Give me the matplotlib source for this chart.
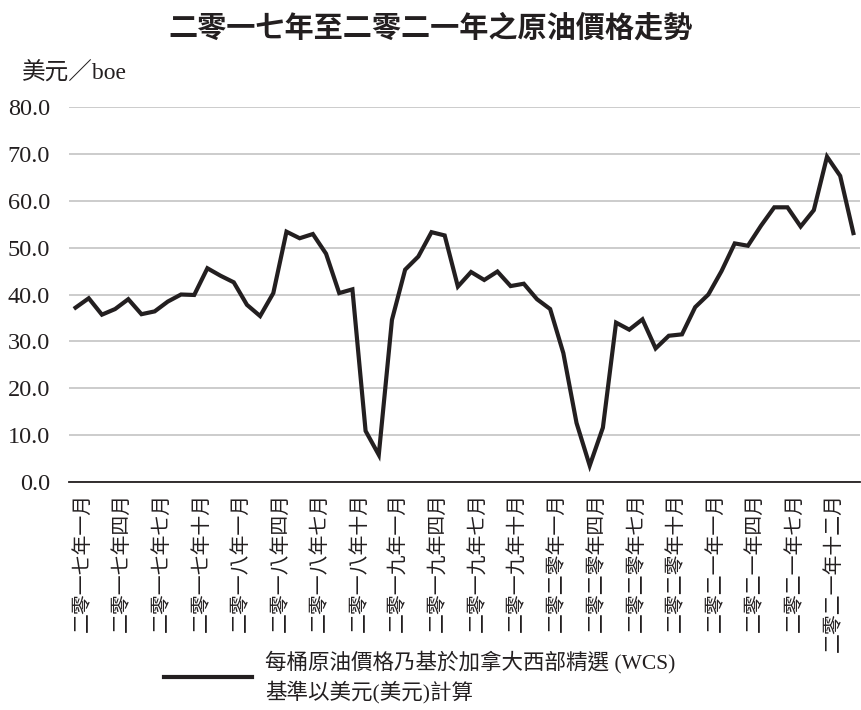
import matplotlib
matplotlib.use('Agg')
import matplotlib.pyplot as plt
import numpy as np

# monthly WCS price, Jan 2017 - Dec 2021 (USD/boe)
prices = [
    37.2, 39.2, 35.7, 36.9, 39.0, 35.8, 36.4, 38.5, 40.0, 39.9, 45.6, 44.0,
    42.6, 37.8, 35.4, 40.3, 53.4, 52.0, 52.9, 48.7, 40.3, 41.1, 10.9, 5.8,
    34.6, 45.3, 48.1, 53.3, 52.6, 41.7, 44.8, 43.1, 44.9, 41.8, 42.3, 39.0,
    36.9, 27.5, 12.6, 3.5, 11.6, 34.0, 32.5, 34.7, 28.5, 31.2, 31.5, 37.3,
    40.0, 45.0, 50.9, 50.4, 54.7, 58.6, 58.6, 54.5, 58.0, 69.4, 65.3, 53.1,
]
tick_labels = [
    '二零一七年一月', '二零一七年四月', '二零一七年七月', '二零一七年十月',
    '二零一八年一月', '二零一八年四月', '二零一八年七月', '二零一八年十月',
    '二零一九年一月', '二零一九年四月', '二零一九年七月', '二零一九年十月',
    '二零二零年一月', '二零二零年四月', '二零二零年七月', '二零二零年十月',
    '二零二一年一月', '二零二一年四月', '二零二一年七月', '二零二一年十二月',
]
y_ticks = [0, 10, 20, 30, 40, 50, 60, 70, 80]
title = '二零一七年至二零二一年之原油價格走勢'
y_unit = '美元／boe'
legend_label = '每桶原油價格乃基於加拿大西部精選 (WCS)\n基準以美元(美元)計算'

serif = ['Liberation Serif', 'Noto Sans CJK TC']
cjk = ['Noto Sans CJK TC', 'DejaVu Sans']

fig = plt.figure(figsize=(8.61, 7.10), dpi=100)
ax = fig.add_axes([0.0801, 0.3211, 0.9187, 0.5282])

x = np.arange(len(prices))
line, = ax.plot(x, prices, color='#231f20', linewidth=3.0, solid_joinstyle='miter',
                label=legend_label, zorder=3)

ax.set_xlim(-0.5, len(prices) - 0.5)
ax.set_ylim(0, 80)
ax.set_yticks(y_ticks)
ax.set_yticklabels([f'{v:.1f}' for v in y_ticks], family=serif, fontsize=17.5, color='#231f20')
ax.yaxis.grid(True, color='#c8c8c8', linewidth=1.3)
ax.set_axisbelow(True)

ax.set_xticks(x[::3] + 0.5)
ax.set_xticklabels(tick_labels, rotation=90, family=cjk, fontsize=14.3,
                   color='#231f20', va='top', ha='center')
ax.tick_params(axis='both', length=0)
ax.tick_params(axis='x', pad=8)
ax.tick_params(axis='y', pad=13.5)

for s in ['top', 'right', 'left']:
    ax.spines[s].set_visible(False)
ax.spines['bottom'].set_color('#231f20')
ax.spines['bottom'].set_linewidth(1.3)

fig.text(0.5, 0.961, title, ha='center', va='center', fontsize=21,
         fontweight='bold', family=cjk, color='#231f20')
fig.text(0.025, 0.897, y_unit, ha='left', va='center', fontsize=17,
         family=serif, color='#231f20')

leg = fig.legend(handles=[line], loc='center left', bbox_to_anchor=(0.19, 0.046),
                 frameon=False, handlelength=4.1, handletextpad=0.6, borderpad=0,
                 borderaxespad=0, prop={'family': serif, 'size': 15.5},
                 labelcolor='#231f20')
for t in leg.get_texts():
    t.set_linespacing(1.4)

fig.savefig('out.png', dpi=100)
